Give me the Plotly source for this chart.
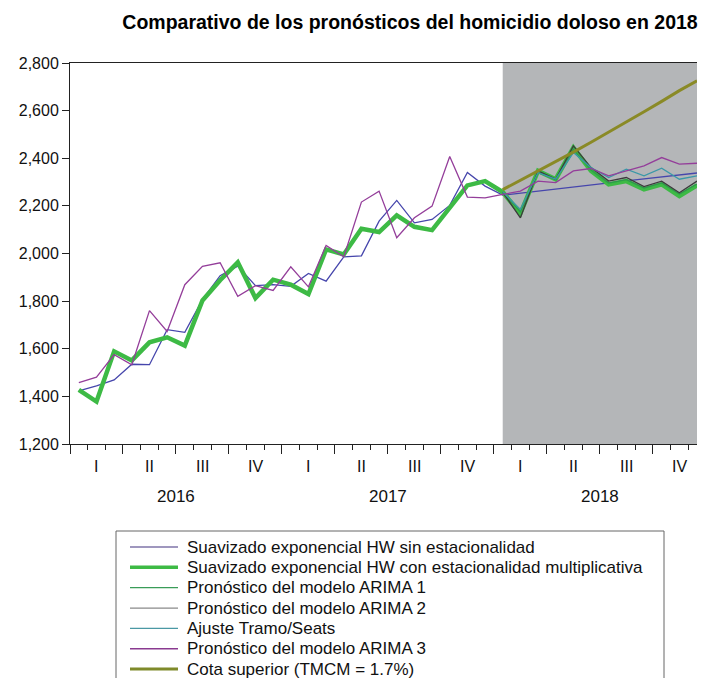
import plotly.graph_objects as go

# Monthly index: Jan 2016 = 0 ... Dec 2018 = 35
months = list(range(36))
forecast_start = 24
quarter_labels = ["I", "II", "III", "IV"] * 3
year_labels = ["2016", "2017", "2018"]

# Holt-Winters without seasonality: fitted values then linear forecast
hw_sin = [1423, 1444, 1469, 1535, 1533, 1680, 1669, 1806, 1907, 1947, 1865, 1869,
          1862, 1916, 1884, 1986, 1990, 2136, 2223, 2129, 2143, 2202, 2340, 2283,
          2245, 2254, 2262, 2271, 2279, 2288, 2296, 2305, 2313, 2322, 2330, 2338]

# Holt-Winters with multiplicative seasonality
hw_mult = [1427, 1378, 1589, 1551, 1627, 1648, 1613, 1803, 1888, 1963, 1813, 1890,
           1869, 1830, 2017, 1996, 2104, 2090, 2160, 2112, 2098, 2192, 2286, 2304,
           2258, 2168, 2347, 2312, 2445, 2347, 2290, 2304, 2269, 2290, 2241, 2286]

# 2018 forecasts
arima1 = [2258, 2175, 2340, 2310, 2438, 2350, 2296, 2310, 2275, 2296, 2250, 2292]
arima2 = [2258, 2150, 2347, 2312, 2452, 2361, 2304, 2319, 2281, 2304, 2255, 2304]
tramo_seats = [2258, 2185, 2340, 2312, 2424, 2361, 2319, 2354, 2326, 2358, 2312, 2326]

arima3 = [1458, 1481, 1575, 1533, 1760, 1673, 1869, 1946, 1961, 1820, 1865, 1845,
          1944, 1860, 2034, 1986, 2216, 2262, 2066, 2150, 2199, 2407, 2237, 2234,
          2248, 2262, 2304, 2298, 2347, 2357, 2326, 2347, 2368, 2403, 2375, 2379]

cota_superior = [2268, 2307, 2346, 2386, 2426, 2467, 2509, 2552, 2595, 2639, 2684, 2725]

FONT = "Liberation Sans, Arial, sans-serif"
W, H = 705, 678
PLOT_L, PLOT_R, PLOT_T, PLOT_B = 70, 697, 63, 444

def px_x(v):
    """Figure pixel column -> paper x."""
    return (v - PLOT_L) / (PLOT_R - PLOT_L)

def px_y(v):
    """Figure pixel row -> paper y."""
    return (PLOT_B - v) / (PLOT_B - PLOT_T)

fc_months = months[forecast_start:]

series = [
    ("Suavizado exponencial HW sin estacionalidad", months, hw_sin, "#4646ac", 1.3, "#7f74a8"),
    ("Suavizado exponencial HW con estacionalidad multiplicativa", months, hw_mult, "#3dba45", 4.5, "#3dba45"),
    ("Pronóstico del modelo ARIMA 1", fc_months, arima1, "#2e9a4c", 1.2, "#3a9c58"),
    ("Pronóstico del modelo ARIMA 2", fc_months, arima2, "#3c3c3c", 1.3, "#8a8a8a"),
    ("Ajuste Tramo/Seats", fc_months, tramo_seats, "#3a98a8", 1.3, "#4a98a4"),
    ("Pronóstico del modelo ARIMA 3", months, arima3, "#943e9a", 1.3, "#8a3a90"),
    ("Cota superior (TMCM = 1.7%)", fc_months, cota_superior, "#8a8a26", 3, "#7f8a2a"),
]

fig = go.Figure()
for name, xs, ys, color, width, _ in series:
    fig.add_trace(go.Scatter(x=xs, y=ys, mode="lines", name=name, showlegend=False,
                             line=dict(color=color, width=width)))

shapes = [
    # Shaded forecast horizon
    dict(type="rect", xref="x", yref="paper", x0=forecast_start, x1=35, y0=0, y1=1,
         fillcolor="#b4b6b8", line_width=0, layer="below"),
    # Legend frame
    dict(type="rect", xref="paper", yref="paper", x0=px_x(116), x1=px_x(664),
         y0=px_y(531), y1=px_y(700), line=dict(color="#666", width=1),
         fillcolor="white", layer="above"),
]

annotations = []
for q, lab in enumerate(quarter_labels):
    annotations.append(dict(x=3 * q + 1, y=px_y(466), xref="x", yref="paper", text=lab,
                            showarrow=False, font=dict(family=FONT, size=16, color="#111"),
                            yanchor="middle"))
for k, lab in enumerate(year_labels):
    annotations.append(dict(x=12 * k + 5.5, y=px_y(497), xref="x", yref="paper", text=lab,
                            showarrow=False, font=dict(family=FONT, size=17, color="#111"),
                            yanchor="middle"))

# Legend rows: sample line + label
for i, (name, _, _, color, width, legend_color) in enumerate(series):
    yc = px_y(547 + 20.35 * i)
    shapes.append(dict(type="line", xref="paper", yref="paper", x0=px_x(130), x1=px_x(178),
                       y0=yc, y1=yc, line=dict(color=legend_color, width=min(width, 3.5)),
                       layer="above"))
    annotations.append(dict(x=px_x(185), y=yc, xref="paper", yref="paper", text=name,
                            showarrow=False, xanchor="left", yanchor="middle",
                            font=dict(family=FONT, size=17, color="#111")))

fig.update_layout(
    width=W, height=H,
    margin=dict(l=PLOT_L, r=W - PLOT_R, t=PLOT_T, b=H - PLOT_B, autoexpand=False),
    paper_bgcolor="white", plot_bgcolor="white",
    title=dict(text="<b>Comparativo de los pronósticos del homicidio doloso en 2018</b>",
               x=410 / W, xanchor="center", xref="container",
               y=1 - 22 / H, yanchor="middle", yref="container",
               font=dict(family=FONT, size=19.5, color="#000")),
    showlegend=False,
    shapes=shapes,
    annotations=annotations,
)

fig.update_xaxes(
    range=[-0.5, 35], showgrid=False, zeroline=False,
    showline=True, linecolor="#222", linewidth=1, mirror=True,
    tickmode="array", tickvals=[3 * q - 0.5 for q in range(12)],
    ticks="outside", ticklen=9, tickcolor="#222", showticklabels=False,
    minor=dict(tickmode="linear", tick0=-0.5, dtick=1, ticks="outside", ticklen=5,
               tickcolor="#222", showgrid=False),
)
fig.update_yaxes(
    range=[1200, 2800], dtick=200, tickformat=",", showgrid=False, zeroline=False,
    showline=True, linecolor="#222", linewidth=1,
    ticks="outside", ticklen=7, tickcolor="#222",
    tickfont=dict(family=FONT, size=16, color="#111"),
)

fig.write_html("out.html")
